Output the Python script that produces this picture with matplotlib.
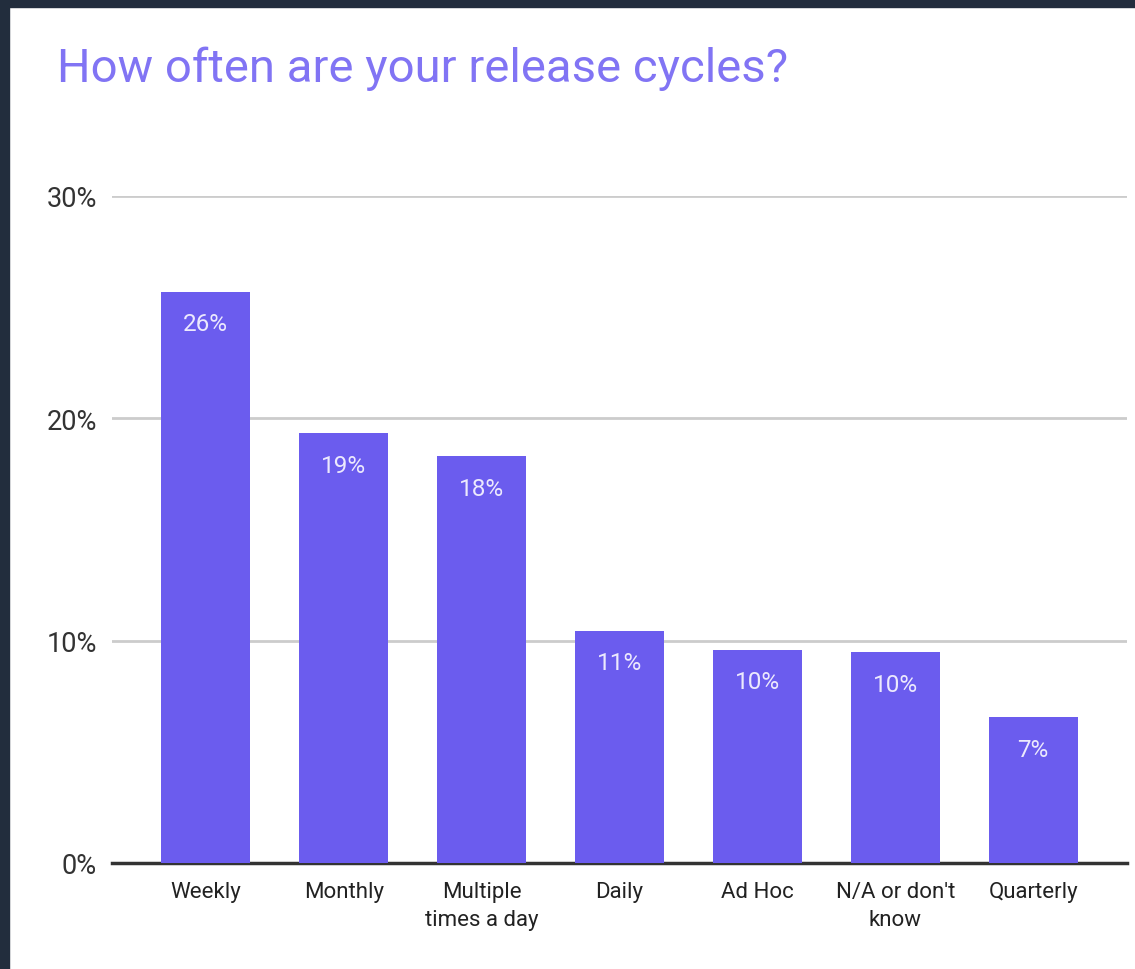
import matplotlib
matplotlib.use("Agg")
import matplotlib.pyplot as plt
import matplotlib.patches as mpatches

categories = ["Weekly", "Monthly", "Multiple\ntimes a day", "Daily", "Ad Hoc", "N/A or don't\nknow", "Quarterly"]
values = [25.7, 19.35, 18.3, 10.45, 9.6, 9.5, 6.55]
labels = ["26%", "19%", "18%", "11%", "10%", "10%", "7%"]
yticks = [0, 10, 20, 30]
ytick_labels = ["0%", "10%", "20%", "30%"]

W, H = 1135, 970
fig = plt.figure(figsize=(W / 100, H / 100), dpi=100)
fig.patch.set_facecolor("white")

# dark frame at top and left
fig.add_artist(mpatches.Rectangle((0, 1 - 8 / H), 1, 8 / H, transform=fig.transFigure, color="#222d3d", zorder=0))
fig.add_artist(mpatches.Rectangle((0, 0), 9 / W, 1, transform=fig.transFigure, color="#222d3d", zorder=0))

ax_left, ax_right = 112 / W, 1127 / W
ax_bottom, ax_top = 1 - 864 / H, 1 - 197 / H
ax = fig.add_axes([ax_left, ax_bottom, ax_right - ax_left, ax_top - ax_bottom])
ax.set_facecolor("none")

x = list(range(len(categories)))
bars = ax.bar(x, values, width=0.645, color="#6b5cee", zorder=3)
for xi, v, lab in zip(x, values, labels):
    ax.annotate(lab, (xi, v), xytext=(0, -15), textcoords="offset points",
                ha="center", va="top", color="#ece9fd", fontsize=17.5, family="Roboto", zorder=4)

ax.set_xlim(-0.68, 6.68)
ax.set_ylim(0, 30)
ax.set_yticks(yticks)
ax.set_yticklabels(ytick_labels, family="Roboto", fontsize=19.5, color="#333333")
ax.set_xticks(x)
ax.set_xticklabels(categories, family="Roboto", fontsize=16, color="#222222", linespacing=1.45)
ax.tick_params(axis="both", length=0)
ax.tick_params(axis="y", pad=11)
ax.tick_params(axis="x", pad=13)
ax.grid(axis="y", color="#cccccc", linewidth=2, zorder=0)
ax.set_axisbelow(True)
for s in ["top", "right", "left"]:
    ax.spines[s].set_visible(False)
ax.spines["bottom"].set_color("#333333")
ax.spines["bottom"].set_linewidth(2.5)
ax.spines["bottom"].set_zorder(2)

fig.text(57 / W, 1 - 82 / H, "How often are your release cycles?", family="Roboto",
         fontsize=34, color="#8174f4", ha="left", va="baseline")

fig.savefig("out.png", dpi=100)
